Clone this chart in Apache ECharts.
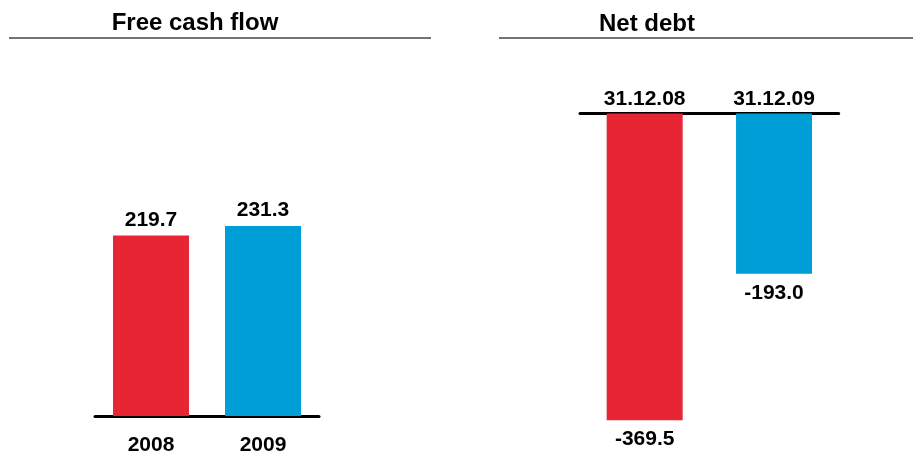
<!DOCTYPE html>
<html>
<head>
<meta charset="utf-8">
<style>html,body{margin:0;padding:0;background:#fff;}#c{width:913px;height:456px;}</style>
<script src="https://cdn.jsdelivr.net/npm/echarts@6/dist/echarts.min.js"></script>
</head>
<body>
<div id="c"></div>
<script>
const fcfCategories = ['2008', '2009'];
const fcfValues = [219.7, 231.3];
const debtCategories = ['31.12.08', '31.12.09'];
const debtValues = [-369.5, -193.0];
const titles = ['Free cash flow', 'Net debt'];

const barColors = ['#E82535', '#009ED6'];
const FONT = '"Liberation Sans", Arial, Helvetica, sans-serif';

function items(vals) {
  return vals.map((v, i) => ({ value: v, itemStyle: { color: barColors[i] } }));
}

const chart = echarts.init(document.getElementById('c'), null, { renderer: 'canvas' });
chart.setOption({
  animation: false,
  backgroundColor: '#fff',
  graphic: [
    { type: 'text', x: 195, y: 23.5, style: { text: titles[0], align: 'center', verticalAlign: 'middle',
      font: 'bold 24px ' + FONT, fill: '#000' } },
    { type: 'text', x: 647, y: 24.5, style: { text: titles[1], align: 'center', verticalAlign: 'middle',
      font: 'bold 24px ' + FONT, fill: '#000' } },
    { type: 'line', shape: { x1: 9, y1: 38, x2: 431, y2: 38 }, style: { stroke: '#444', lineWidth: 1.5 } },
    { type: 'line', shape: { x1: 499, y1: 38, x2: 913, y2: 38 }, style: { stroke: '#444', lineWidth: 1.5 } }
  ],
  grid: [
    { left: 95, width: 224, top: 210.6, height: 206.9 },
    { left: 580, width: 258.7, top: 113.5, height: 332 }
  ],
  xAxis: [
    { type: 'category', gridIndex: 0, data: fcfCategories, position: 'bottom',
      axisLine: { show: true, lineStyle: { color: '#000', width: 3 } },
      axisTick: { show: false },
      axisLabel: { margin: 19, fontFamily: FONT, fontSize: 21, fontWeight: 'bold', color: '#000' } },
    { type: 'category', gridIndex: 1, data: debtCategories, position: 'top',
      axisLine: { show: true, onZero: false, lineStyle: { color: '#000', width: 3 } },
      axisTick: { show: false },
      axisLabel: { margin: 4, fontFamily: FONT, fontSize: 21, fontWeight: 'bold', color: '#000' } }
  ],
  yAxis: [
    { type: 'value', gridIndex: 0, min: 0, max: 250, show: false, splitLine: { show: false } },
    { type: 'value', gridIndex: 1, min: -400, max: 0, show: false, splitLine: { show: false } }
  ],
  series: [
    { type: 'bar', xAxisIndex: 0, yAxisIndex: 0, barWidth: 76, data: items(fcfValues),
      label: { show: true, position: 'top', distance: 5, fontFamily: FONT, fontSize: 21, fontWeight: 'bold', color: '#000',
        formatter: p => p.value.toFixed(1) } },
    { type: 'bar', xAxisIndex: 1, yAxisIndex: 1, barWidth: 76, data: items(debtValues),
      label: { show: true, position: 'bottom', distance: 9, fontFamily: FONT, fontSize: 21, fontWeight: 'bold', color: '#000',
        formatter: p => p.value.toFixed(1) } }
  ]
});
</script>
</body>
</html>
